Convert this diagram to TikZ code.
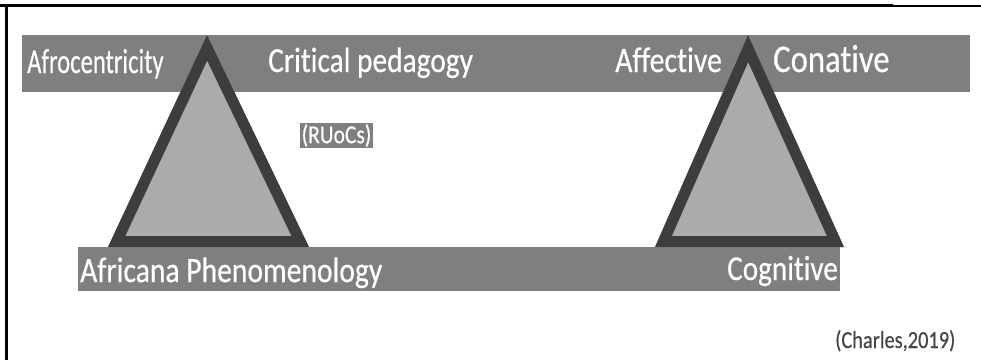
\documentclass[tikz,border=0pt]{standalone}
\usepackage{fontspec}
\setmainfont{Carlito}[Ligatures=NoCommon]
\newfontfamily\labelfont{Carlito}[Ligatures=NoCommon, FakeBold=0.5]
\usepackage{graphicx}
\definecolor{barGray}{HTML}{7F7F7F}
\definecolor{triEdge}{HTML}{3D3D3D}
\definecolor{triFill}{HTML}{ABABAB}
\definecolor{noteGray}{HTML}{454545}
% slightly tall lettering
\newcommand{\tallText}[2][1]{\scalebox{#1}[1.2]{#2}}
\tikzset{
  bar/.style={fill=barGray, draw=none},
  label/.style={anchor=base west, inner sep=0pt, text=white},
  pyramid/.style={fill=triFill, draw=triEdge, line width=22pt},
}
\begin{document}
\begin{tikzpicture}[x=1pt, y=-1pt]
  \useasboundingbox (0,0) rectangle (981,360);
  \fill[white] (0,0) rectangle (981,360);

  % frame of the cell
  \draw[line width=3pt] (0,5.5) -- (893,5.5);
  \draw[line width=2pt] (893,6) -- (981,6);
  \draw[line width=3pt] (6.5,4) -- (6.5,360);

  % horizontal bars
  \path[bar] (22,35) rectangle (970,92);
  \path[bar] (78,247) rectangle (840,291);

  % the two triangles, stroked on the inside only
  \begin{scope}
    \clip (207,35) -- (309,247) -- (108,247) -- cycle;
    \draw[pyramid] (207,35) -- (309,247) -- (108,247) -- cycle;
  \end{scope}
  \begin{scope}
    \clip (748,35) -- (844,247) -- (655,247) -- cycle;
    \draw[pyramid] (748,35) -- (844,247) -- (655,247) -- cycle;
  \end{scope}

  % labels on the top bar
  \node[label, font=\labelfont\fontsize{29}{30}\selectfont] (afro) at (27,73) {\tallText[0.85]{Afrocentricity}};
  \node[label, font=\labelfont\fontsize{29.4}{30}\selectfont] (crit) at (268,72) {\tallText{Critical pedagogy}};
  \node[label, font=\labelfont\fontsize{29.8}{30}\selectfont] (aff) at (615,72) {\tallText{Affective}};
  \node[label, font=\labelfont\fontsize{32.7}{33}\selectfont] (con) at (773,72) {\tallText{Conative}};

  % small tag
  \node[fill=barGray, text=white, inner sep=0pt, minimum width=73pt, minimum height=25pt,
        font=\labelfont\fontsize{21.5}{22}\selectfont] (ruocs) at (336.5,135.5) {\tallText{(RUoCs)}};

  % labels on the bottom bar
  \node[label, font=\labelfont\fontsize{29.6}{30}\selectfont] (afr) at (80,282) {\tallText{Africana Phenomenology}};
  \node[label, font=\labelfont\fontsize{29.2}{30}\selectfont] (cog) at (727,280) {\tallText{Cognitive}};

  % source
  \node[anchor=base west, inner sep=0pt, text=noteGray, font=\labelfont\fontsize{20.4}{21}\selectfont] (src) at (835,348) {\tallText{(Charles,2019)}};
\end{tikzpicture}
\end{document}
